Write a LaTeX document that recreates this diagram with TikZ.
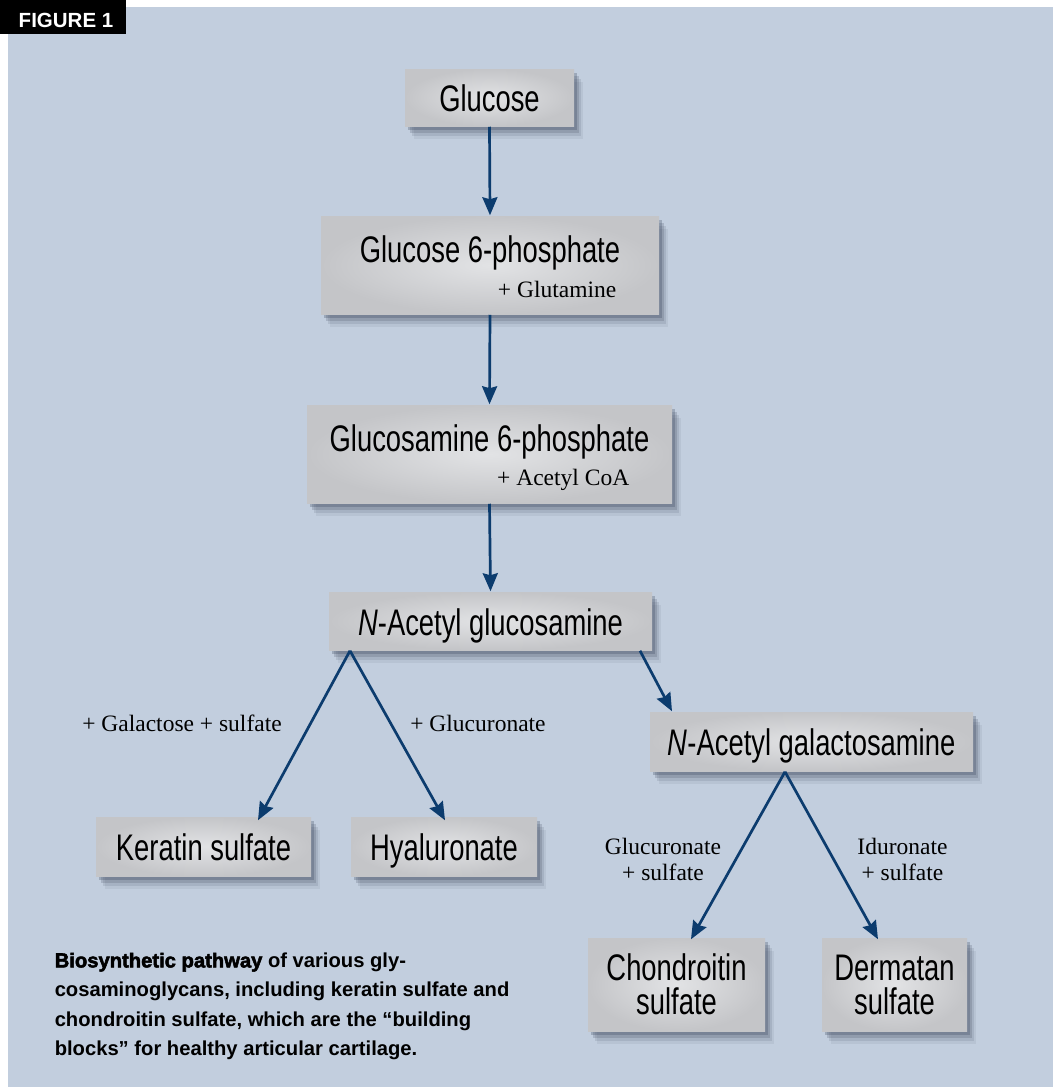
\documentclass[tikz,border=0pt]{standalone}
\usepackage{fontspec}
\setmainfont{Liberation Serif}
\setsansfont{Liberation Sans}
\newfontfamily\condfont[FakeStretch=0.74]{Liberation Sans}
\newfontfamily\capfont{Liberation Sans}
\newfontfamily\heavyfont[BoldFeatures={FakeBold=2.5}]{Liberation Sans}
\usetikzlibrary{arrows.meta,shadows}

\definecolor{panelbg}{RGB}{194,206,222}
\definecolor{boxin}{RGB}{226,227,229}
\definecolor{boxout}{RGB}{196,197,200}
\definecolor{pathblue}{RGB}{12,60,110}
\definecolor{shadowtone}{RGB}{60,70,90}

\tikzset{every picture/.style={line width=0.75pt}}
\tikzset{
  softshadow/.style={
    drop shadow={shadow xshift=1.5pt, shadow yshift=-2pt, opacity=0.28, fill=shadowtone},
    drop shadow={shadow xshift=2.5pt, shadow yshift=-3.5pt, opacity=0.20, fill=shadowtone},
    drop shadow={shadow xshift=3.5pt, shadow yshift=-5pt, opacity=0.13, fill=shadowtone},
    drop shadow={shadow xshift=4.5pt, shadow yshift=-6.5pt, opacity=0.08, fill=shadowtone}},
  stepbox/.style={rectangle, inner sep=0pt, shading=radial, inner color=boxin, outer color=boxout,
    softshadow, font=\condfont\fontsize{18.5}{17}\selectfont, text height=14pt, text depth=0pt},
  twoline/.style={text height=14pt, text depth=17pt},
  note/.style={inner sep=0pt, font=\fontsize{11.75}{13}\selectfont, align=center},
  pathway/.style={draw=pathblue, line width=1.35pt, -{Stealth[length=9pt,width=7.5pt,inset=1pt]}},
}

\begin{document}
\begin{tikzpicture}[x=0.5pt,y=0.5pt,yscale=-1,xscale=1]
\useasboundingbox (0,0) rectangle (1053,1087);

%Shape: Rectangle [panel]
\fill[panelbg] (8,7) rectangle (1053,1087);
%Shape: Rectangle [figure tag]
\fill[black] (0,0) rectangle (126,34);
% Text Node
\node[anchor=base, inner sep=0pt, text=white, font=\capfont\bfseries\fontsize{10.25}{12}\selectfont] (figtag) at (66,27.5) {FIGURE 1};

% Boxes
\node[stepbox, minimum width=84.5pt, minimum height=28.5pt] (glc) at (489.5,97.5) {Glucose};
\node[stepbox, twoline, minimum width=169pt, minimum height=49pt] (g6p) at (490,265) {Glucose 6-phosphate};
\node[stepbox, twoline, minimum width=182.5pt, minimum height=49pt] (gn6p) at (489.5,454) {Glucosamine 6-phosphate};
\node[stepbox, minimum width=161.5pt, minimum height=29pt] (nag) at (490.5,621) {\textit{N}-Acetyl glucosamine};
\node[stepbox, minimum width=161.5pt, minimum height=29.5pt] (ngal) at (811.5,741.5) {\textit{N}-Acetyl galactosamine};
\node[stepbox, minimum width=107.5pt, minimum height=29.5pt] (ker) at (203.5,846.5) {Keratin sulfate};
\node[stepbox, minimum width=93pt, minimum height=29.5pt] (hya) at (444,846.5) {Hyaluronate};
\node[stepbox, text height={}, text depth={}, align=center, minimum width=88.5pt, minimum height=46.5pt] (cho) at (676.5,984.5) {Chondroitin\\ sulfate};
\node[stepbox, text height={}, text depth={}, align=center, minimum width=72.5pt, minimum height=46.5pt] (der) at (894.5,984.5) {Dermatan\\ sulfate};

% Text Node
\node[note, anchor=base east] (glut) at (617,297) {+ Glutamine};
% Text Node
\node[note, anchor=base east] (acoa) at (630,485) {+ Acetyl CoA};
% Text Node
\node[note, anchor=base] (galsul) at (182,731) {+ Galactose + sulfate};
% Text Node
\node[note, anchor=base] (glcu) at (478,731) {+ Glucuronate};
% Text Node
\node[note] (glcusul) at (663,859) {Glucuronate\\ + sulfate};
% Text Node
\node[note] (idusul) at (902.5,859) {Iduronate\\ + sulfate};

% Arrows
\draw[pathway] (glc.south) -- (g6p.north);
\draw[pathway] (g6p.south) -- (gn6p.north);
\draw[pathway] (gn6p.south) -- (nag.north);
\draw[pathway] ([xshift=-70.25pt]nag.south) -- ([xshift=27.25pt,yshift=2pt]ker.north);
\draw[pathway] ([xshift=-70.25pt]nag.south) -- ([xshift=0.5pt,yshift=2pt]hya.north);
\draw[pathway] ([xshift=74.75pt]nag.south) -- ([xshift=-69.75pt]ngal.north);
\draw[pathway] ([xshift=-13.25pt]ngal.south) -- ([xshift=7.25pt,yshift=1pt]cho.north);
\draw[pathway] ([xshift=-13.25pt]ngal.south) -- ([xshift=-8.25pt,yshift=1pt]der.north);

% Caption
\node[anchor=north west, inner sep=0pt, align=left, font=\capfont\bfseries\fontsize{10.1}{14.65}\selectfont] (caption) at (54,952)
  {{\heavyfont\bfseries Biosynthetic pathway} of various gly-\\
   cosaminoglycans, including keratin sulfate and\\
   chondroitin sulfate, which are the “building\\
   blocks” for healthy articular cartilage.};
\end{tikzpicture}
\end{document}
